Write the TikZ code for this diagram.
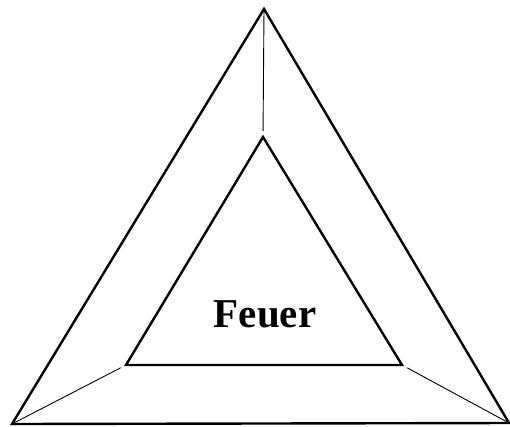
\documentclass[tikz,border=0pt]{standalone}
\usepackage{fontspec}
\setmainfont{Liberation Serif}
\usepackage{tikz}
\usetikzlibrary{positioning, calc}
\tikzset{
  rim/.style={draw=black, line width=2.4pt, line join=miter},
  spoke/.style={draw=black, line width=0.9pt, shorten >=6pt},
  label/.style={font=\fontsize{41}{41}\selectfont\bfseries, inner sep=0pt}
}
\begin{document}
\begin{tikzpicture}[x=1pt, y=-1pt]
\useasboundingbox (0,0) rectangle (510,426);
% outer triangle
\coordinate (otop) at (264,9);
\coordinate (oleft) at (12,424);
\coordinate (oright) at (509,423);
% inner triangle
\coordinate (itop) at (263,137);
\coordinate (ileft) at (126,365);
\coordinate (iright) at (402,365);

\draw [rim] (otop) -- (oleft) -- (oright) -- cycle;
\draw [rim] (itop) -- (ileft) -- (iright) -- cycle;

\draw [spoke] (otop)   -- (itop);
\draw [spoke] (oleft)  -- (ileft);
\draw [spoke] (oright) -- (iright);

\node (fire) [label, anchor=base] at (265,327) {Feuer};
\end{tikzpicture}
\end{document}
